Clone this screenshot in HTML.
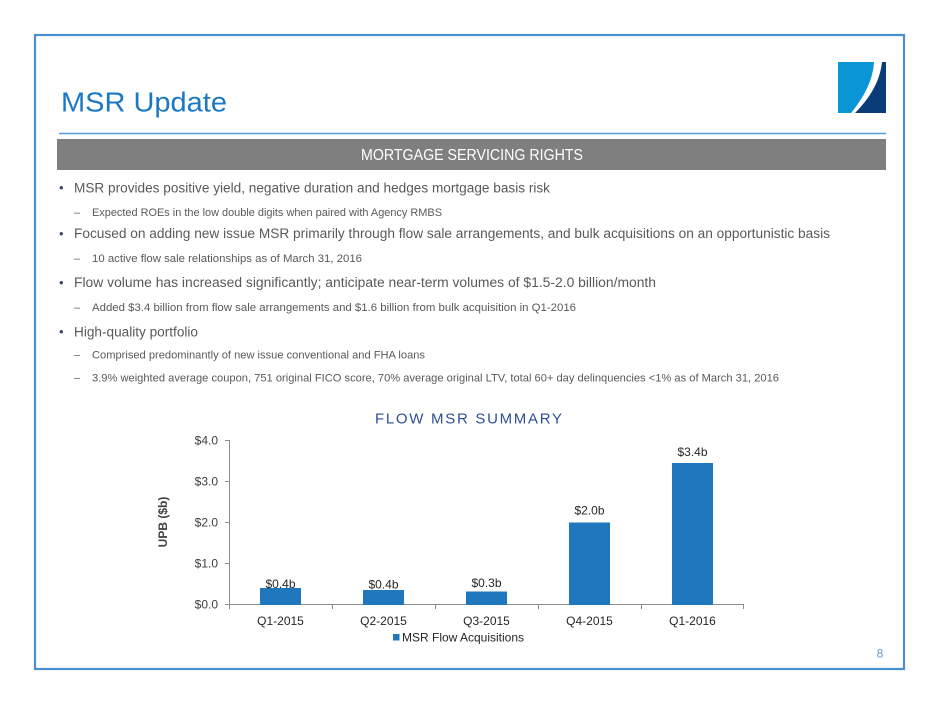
<!DOCTYPE html>
<html>
<head>
<meta charset="utf-8">
<style>
html,body{margin:0;padding:0;background:#fff;}
svg{display:block;}
text{font-family:"Liberation Sans",Arial,sans-serif;}
</style>
</head>
<body>
<svg width="940" height="705" viewBox="0 0 940 705" xmlns="http://www.w3.org/2000/svg">
  <rect x="0" y="0" width="940" height="705" fill="#ffffff"/>
  <!-- frame -->
  <rect x="35" y="35" width="869" height="634" fill="none" stroke="#4a90d0" stroke-width="2.2"/>

  <!-- title -->
  <text x="61" y="111.5" font-size="28" fill="#1b79c4" textLength="166" lengthAdjust="spacingAndGlyphs">MSR Update</text>

  <!-- logo -->
  <path d="M838,62 L874,62 C873,80 864,97 851,113 L838,113 Z" fill="#0a96d6"/>
  <path d="M882,62 L886,62 L886,113 L855,113 C869,99 880,82 882,62 Z" fill="#0b3c7a"/>

  <!-- rule and header bar -->
  <line x1="59" y1="133.5" x2="886" y2="133.5" stroke="#5b9bd5" stroke-width="1.5"/>
  <rect x="57" y="139" width="829" height="31" fill="#7f7f7f"/>
  <text x="361" y="160" font-size="16" fill="#ffffff" textLength="222" lengthAdjust="spacingAndGlyphs">MORTGAGE SERVICING RIGHTS</text>

  <!-- bullets -->
  <g fill="#595959">
    <text x="59" y="192" font-size="13" fill="#3b4a6b">•</text>
    <text x="74" y="192.5" font-size="13.5" textLength="476" lengthAdjust="spacingAndGlyphs">MSR provides positive yield, negative duration and hedges mortgage basis risk</text>

    <text x="74" y="216" font-size="11" fill="#5a6478">–</text>
    <text x="92" y="216" font-size="11" textLength="350" lengthAdjust="spacingAndGlyphs">Expected ROEs in the low double digits when paired with Agency RMBS</text>

    <text x="59" y="238" font-size="13" fill="#3b4a6b">•</text>
    <text x="74" y="238" font-size="13.5" textLength="756" lengthAdjust="spacingAndGlyphs">Focused on adding new issue MSR primarily through flow sale arrangements, and bulk acquisitions on an opportunistic basis</text>

    <text x="74" y="262" font-size="11" fill="#5a6478">–</text>
    <text x="92" y="262" font-size="11" textLength="270" lengthAdjust="spacingAndGlyphs">10 active flow sale relationships as of March 31, 2016</text>

    <text x="59" y="287" font-size="13" fill="#3b4a6b">•</text>
    <text x="74" y="287" font-size="13.5" textLength="582" lengthAdjust="spacingAndGlyphs">Flow volume has increased significantly; anticipate near-term volumes of $1.5-2.0 billion/month</text>

    <text x="74" y="311" font-size="11" fill="#5a6478">–</text>
    <text x="92" y="311" font-size="11" textLength="484" lengthAdjust="spacingAndGlyphs">Added $3.4 billion from flow sale arrangements and $1.6 billion from bulk acquisition in Q1-2016</text>

    <text x="59" y="336" font-size="13" fill="#3b4a6b">•</text>
    <text x="74" y="336.5" font-size="13.5" textLength="124" lengthAdjust="spacingAndGlyphs">High-quality portfolio</text>

    <text x="74" y="358.5" font-size="11" fill="#5a6478">–</text>
    <text x="92" y="358.5" font-size="11" textLength="333" lengthAdjust="spacingAndGlyphs">Comprised predominantly of new issue conventional and FHA loans</text>

    <text x="74" y="381.5" font-size="11" fill="#5a6478">–</text>
    <text x="92" y="381.5" font-size="11" textLength="687" lengthAdjust="spacingAndGlyphs">3.9% weighted average coupon, 751 original FICO score, 70% average original LTV, total 60+ day delinquencies &lt;1% as of March 31, 2016</text>
  </g>

  <!-- chart title -->
  <text x="375" y="423.3" font-size="15" fill="#2c4f96" textLength="187" lengthAdjust="spacing">FLOW MSR SUMMARY</text>

  <!-- axes -->
  <g stroke="#8c8c8c" stroke-width="1">
    <line x1="229.5" y1="440" x2="229.5" y2="605"/>
    <line x1="225" y1="440.5" x2="229.5" y2="440.5"/>
    <line x1="225" y1="481.5" x2="229.5" y2="481.5"/>
    <line x1="225" y1="522.5" x2="229.5" y2="522.5"/>
    <line x1="225" y1="563.5" x2="229.5" y2="563.5"/>
    <line x1="225" y1="604.5" x2="744" y2="604.5"/>
    <line x1="229.5" y1="604.5" x2="229.5" y2="609"/>
    <line x1="332.5" y1="604.5" x2="332.5" y2="609"/>
    <line x1="435.5" y1="604.5" x2="435.5" y2="609"/>
    <line x1="538.5" y1="604.5" x2="538.5" y2="609"/>
    <line x1="641.5" y1="604.5" x2="641.5" y2="609"/>
    <line x1="743.5" y1="604.5" x2="743.5" y2="609"/>
  </g>

  <!-- y labels -->
  <g font-size="12" fill="#404040" text-anchor="end">
    <text x="218" y="444.5">$4.0</text>
    <text x="218" y="485.5">$3.0</text>
    <text x="218" y="526.5">$2.0</text>
    <text x="218" y="567.5">$1.0</text>
    <text x="218" y="608.5">$0.0</text>
  </g>
  <text transform="translate(167,522) rotate(-90)" font-size="12" font-weight="bold" fill="#404040" text-anchor="middle">UPB ($b)</text>

  <!-- bars -->
  <g fill="#1f78be">
    <rect x="260" y="588" width="41" height="17"/>
    <rect x="363" y="590" width="41" height="15"/>
    <rect x="466" y="591.5" width="41" height="13.5"/>
    <rect x="569" y="522.5" width="41" height="82.5"/>
    <rect x="672" y="463" width="41" height="142"/>
  </g>

  <!-- data labels -->
  <g font-size="12" fill="#262626" text-anchor="middle">
    <text x="280.5" y="588">$0.4b</text>
    <text x="383.5" y="588.5">$0.4b</text>
    <text x="486.5" y="587">$0.3b</text>
    <text x="589.5" y="514.5">$2.0b</text>
    <text x="692.5" y="456">$3.4b</text>
  </g>

  <!-- category labels -->
  <g font-size="12" fill="#262626" text-anchor="middle">
    <text x="280.5" y="625">Q1-2015</text>
    <text x="383.5" y="625">Q2-2015</text>
    <text x="486.5" y="625">Q3-2015</text>
    <text x="589.5" y="625">Q4-2015</text>
    <text x="692.5" y="625">Q1-2016</text>
  </g>

  <!-- legend -->
  <rect x="393" y="634" width="6.5" height="6.5" fill="#1f78be"/>
  <text x="402" y="641.5" font-size="12" fill="#262626" textLength="122" lengthAdjust="spacingAndGlyphs">MSR Flow Acquisitions</text>

  <!-- page number -->
  <text x="880" y="657.5" font-size="12" fill="#5b9bd5" text-anchor="middle">8</text>
</svg>
</body>
</html>
